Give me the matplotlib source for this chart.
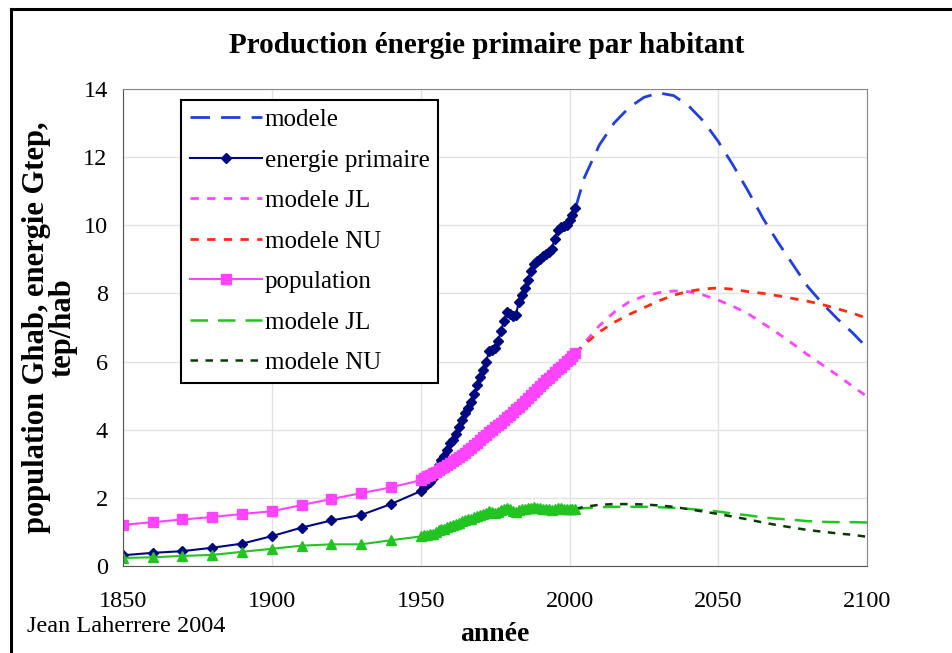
import numpy as np
import matplotlib.pyplot as plt
from matplotlib.lines import Line2D

plt.rcParams['font.family'] = ['Liberation Serif', 'DejaVu Serif']

# historique par decennie 1850-1940
annees_anc = [1850, 1860, 1870, 1880, 1890, 1900, 1910, 1920, 1930, 1940]
energie_anc = [0.32, 0.39, 0.44, 0.54, 0.66, 0.88, 1.13, 1.34, 1.50, 1.82]
pop_anc = [1.21, 1.29, 1.37, 1.44, 1.53, 1.61, 1.79, 1.97, 2.14, 2.31]
parhab_anc = [0.24, 0.26, 0.30, 0.33, 0.42, 0.51, 0.60, 0.64, 0.64, 0.76]

# annuel 1950-2002
annees = list(range(1950, 2003))
energie = [2.20, 2.32, 2.40, 2.48, 2.60, 2.80, 2.98, 3.10, 3.22, 3.40,
           3.62, 3.70, 3.88, 4.08, 4.30, 4.48, 4.65, 4.80, 5.05, 5.30,
           5.55, 5.75, 6.00, 6.30, 6.35, 6.40, 6.60, 6.90, 7.20, 7.45,
           7.40, 7.35, 7.38, 7.75, 7.95, 8.15, 8.40, 8.65, 8.85, 8.95,
           9.00, 9.10, 9.15, 9.22, 9.30, 9.60, 9.85, 9.95, 9.98, 10.02,
           10.15, 10.30, 10.50]
population = [2.52, 2.58, 2.63, 2.68, 2.73, 2.77, 2.82, 2.87, 2.92, 2.97,
              3.03, 3.07, 3.14, 3.20, 3.26, 3.33, 3.40, 3.47, 3.54, 3.62,
              3.70, 3.78, 3.85, 3.92, 4.00, 4.07, 4.14, 4.21, 4.29, 4.36,
              4.44, 4.52, 4.60, 4.68, 4.76, 4.85, 4.93, 5.02, 5.11, 5.20,
              5.29, 5.37, 5.45, 5.53, 5.61, 5.69, 5.77, 5.85, 5.93, 6.01,
              6.09, 6.16, 6.24]
parhab = [0.87, 0.90, 0.91, 0.93, 0.95, 1.01, 1.06, 1.08, 1.10, 1.14,
          1.19, 1.21, 1.24, 1.28, 1.32, 1.35, 1.37, 1.38, 1.43, 1.46,
          1.50, 1.52, 1.56, 1.61, 1.59, 1.57, 1.59, 1.64, 1.68, 1.71,
          1.67, 1.63, 1.60, 1.66, 1.67, 1.68, 1.70, 1.72, 1.73, 1.72,
          1.70, 1.69, 1.68, 1.67, 1.66, 1.69, 1.71, 1.70, 1.68, 1.67,
          1.67, 1.67, 1.68]

# modeles 2002-2100
annees_mod = [2002, 2005, 2010, 2015, 2020, 2025, 2030, 2035, 2040, 2045, 2050,
              2055, 2060, 2065, 2070, 2075, 2080, 2085, 2090, 2095, 2100]
modele_energie = [10.50, 11.40, 12.35, 13.00, 13.45, 13.75, 13.88, 13.80, 13.50,
                  13.05, 12.45, 11.75, 11.00, 10.20, 9.50, 8.85, 8.20, 7.70,
                  7.25, 6.85, 6.40]
modele_pop_jl = [6.24, 6.55, 7.05, 7.45, 7.75, 7.92, 8.02, 8.07, 8.05, 7.95, 7.80,
                 7.62, 7.40, 7.12, 6.83, 6.52, 6.20, 5.90, 5.60, 5.28, 4.97]
modele_pop_nu = [6.24, 6.50, 6.87, 7.15, 7.38, 7.58, 7.78, 7.95, 8.06, 8.13, 8.16,
                 8.12, 8.05, 8.00, 7.93, 7.85, 7.77, 7.67, 7.55, 7.42, 7.27]
modele_hab_jl = [1.68, 1.70, 1.73, 1.74, 1.74, 1.74, 1.73, 1.71, 1.68, 1.64, 1.60,
                 1.54, 1.49, 1.43, 1.39, 1.36, 1.32, 1.30, 1.29, 1.29, 1.28]
modele_hab_nu = [1.68, 1.74, 1.80, 1.82, 1.82, 1.81, 1.78, 1.74, 1.67, 1.60, 1.53,
                 1.45, 1.37, 1.28, 1.20, 1.13, 1.06, 1.01, 0.96, 0.92, 0.86]

fig = plt.figure(figsize=(9.53, 6.53), dpi=100)
ax = fig.add_axes([0.129, 0.133, 0.781, 0.731])

ax.plot(annees_mod, modele_energie, color='#1f3fe0', lw=2, dashes=(7, 4), label='modele')
ax.plot(annees_anc + annees, energie_anc + energie, color='#00087f', lw=1.5,
        marker='D', ms=5.5, label='energie primaire')
ax.plot(annees_mod, modele_pop_jl, color='#ff44ff', lw=2, dashes=(3, 3), label='modele JL')
ax.plot(annees_mod, modele_pop_nu, color='#ff2a10', lw=2, dashes=(3, 3), label='modele NU')
ax.plot(annees_anc + annees, pop_anc + population, color='#ff44ff', lw=1.5,
        marker='s', ms=6.5, label='population')
ax.plot(annees_mod, modele_hab_jl, color='#22c422', lw=1.8, dashes=(7, 4), label='modele JL')
ax.plot(annees_mod, modele_hab_nu, color='#0a3a0a', lw=1.8, dashes=(3, 3), label='modele NU')
ax.plot(annees_anc + annees, parhab_anc + parhab, color='#22c422', lw=1.5,
        marker='^', ms=7)

ax.set_xlim(1850, 2100)
ax.set_ylim(0, 14)
ax.set_xticks(range(1850, 2101, 50))
ax.set_yticks(range(0, 15, 2))
ax.tick_params(labelsize=17.5, length=0)
ax.tick_params(axis='x', pad=18)
ax.tick_params(axis='y', pad=11)
ax.grid(True, color='#e2e2e2', lw=1)
ax.set_axisbelow(True)
for s in ax.spines.values():
    s.set_color('#888888')
ax.spines['left'].set_color('#555555')
ax.spines['bottom'].set_color('#555555')

ax.set_ylabel('population Ghab, energie Gtep,\ntep/hab', fontsize=22,
              fontweight='bold', labelpad=4, linespacing=0.9)
ax.set_xlabel('année', fontsize=20, fontweight='bold', labelpad=7)
fig.text(0.511, 0.931, 'Production énergie primaire par habitant',
         ha='center', va='center', fontsize=21, fontweight='bold')
fig.text(0.028, 0.041, 'Jean Laherrere 2004', fontsize=17.5, va='center')

leg = ax.legend(loc='upper left', bbox_to_anchor=(0.078, 0.977), fontsize=18,
                handlelength=2.9, labelspacing=0.72, borderpad=0.35,
                handletextpad=0.1, fancybox=False, framealpha=1,
                edgecolor='black', borderaxespad=0)
leg.get_frame().set_linewidth(1.5)

# cadre de la figure
fig.add_artist(Line2D([0.012, 0.012], [0, 0.986], color='black', lw=2.2))
fig.add_artist(Line2D([0.012, 1], [0.986, 0.986], color='black', lw=2.2))

fig.savefig('out.png', dpi=100)
